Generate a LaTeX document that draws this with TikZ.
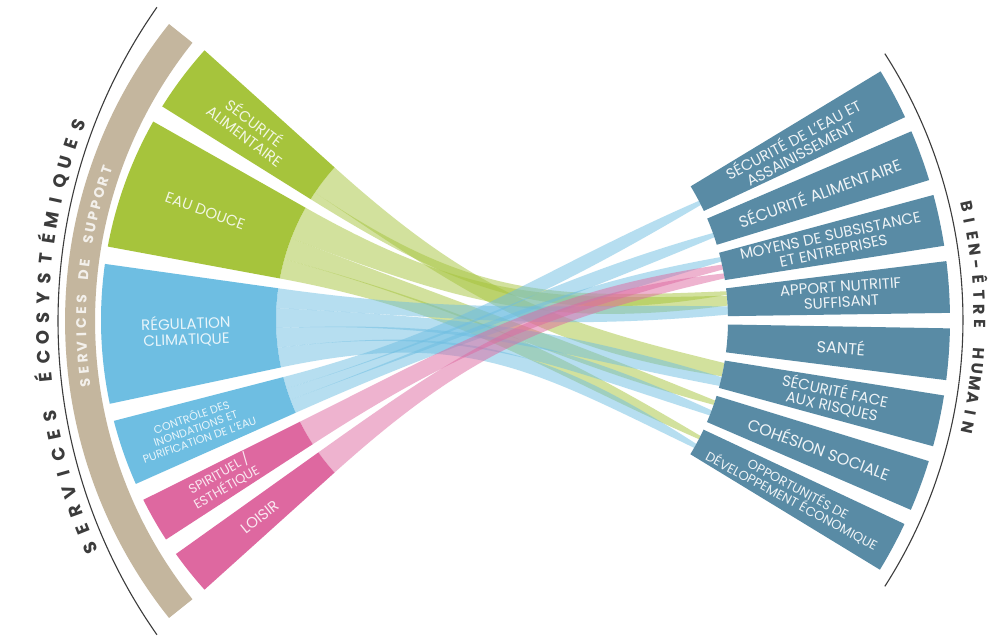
\documentclass[tikz,border=0pt]{standalone}
\usepackage{fontspec}
\setmainfont{Poppins}
\usetikzlibrary{calc}

\definecolor{leafgreen}{RGB}{166,196,60}
\definecolor{skyblue}{RGB}{110,190,226}
\definecolor{rosepink}{RGB}{222,104,160}
\definecolor{steelseg}{RGB}{89,139,165}
\definecolor{supporttan}{RGB}{196,182,158}
\definecolor{arcgray}{RGB}{60,60,60}

% #1 colour, #2 centre, #3/#4 angles, #5/#6 radii
\newcommand{\ringpart}[6]{%
	\fill[#1] ($(#2)+(#3:#5)$) arc[start angle=#3, end angle=#4, radius=#5]
		-- ($(#2)+(#4:#6)$) arc[start angle=#4, end angle=#3, radius=#6] -- cycle;}
% #1 colour, #2/#3 angles on the left, #4/#5 angles on the right
\newcommand{\flowband}[5]{%
	\fill[#1, opacity=0.5] ($(lcen)+(#2:228)$) .. controls +({#2+180}:190) and +({#5+176}:175) .. ($(rcen)+(#5:258)$)
		arc[start angle=#5, end angle=#4, radius=258]
		.. controls +({#4+184}:175) and +({#3+180}:190) .. ($(lcen)+(#3:228)$)
		arc[start angle=#3, end angle=#2, radius=228] -- cycle;}

\tikzset{
	lefttext/.style={text=white, text opacity=0.85, align=center, inner sep=0pt, font=\fontsize{15}{16}\selectfont},
	righttext/.style={text=white, text opacity=0.9, align=center, inner sep=0pt, font=\fontsize{15}{15.5}\selectfont},
	titlearc/.style={arcgray, line width=1.1pt},
	titleletter/.style={text=arcgray, anchor=base, inner sep=0pt, font=\fontsize{18}{18}\selectfont\bfseries},
	tanletter/.style={text=white, text opacity=0.8, anchor=base, inner sep=0pt, font=\fontsize{14}{14}\selectfont\bfseries}
}

\begin{document}
\begin{tikzpicture}[x=1pt, y=1pt]
	\path[use as bounding box, fill=white] (0,0) rectangle (993,637);
	\coordinate (lcen) at (504,317);
	\coordinate (rcen) at (470,317);
	\coordinate (tcen) at (541,316);
	\coordinate (bcen) at (605,316);

	\flowband{leafgreen}{138}{146}{-12.6}{-9.6}
	\flowband{leafgreen}{146}{148}{5.6}{6.4}
	\flowband{leafgreen}{150.5}{159}{3.2}{5.4}
	\flowband{leafgreen}{159}{164.5}{-19.2}{-18.2}
	\flowband{leafgreen}{164.5}{169.5}{-27.5}{-26.7}
	\flowband{skyblue}{172}{177}{1.2}{3}
	\flowband{skyblue}{177}{182}{-14.8}{-12.8}
	\flowband{skyblue}{182}{187}{-21.7}{-20.5}
	\flowband{skyblue}{187}{192}{-29.7}{-28.7}
	\flowband{skyblue}{194.5}{197.5}{26.5}{27.5}
	\flowband{skyblue}{197.5}{200.5}{18.7}{19.7}
	\flowband{skyblue}{200.5}{204}{13.1}{14.1}
	\flowband{rosepink}{206.5}{213}{11.3}{12.4}
	\flowband{rosepink}{215.5}{222}{9.3}{10.4}

	\ringpart{leafgreen}{lcen}{138}{148}{228}{403}
	\ringpart{leafgreen}{lcen}{150.5}{169.5}{228}{403}
	\ringpart{skyblue}{lcen}{172}{192}{228}{403}
	\ringpart{skyblue}{lcen}{194.5}{204}{228}{403}
	\ringpart{rosepink}{lcen}{206.5}{213}{228}{403}
	\ringpart{rosepink}{lcen}{215.5}{222}{228}{403}

	\ringpart{steelseg}{rcen}{25}{31.2}{258}{480}
	\ringpart{steelseg}{rcen}{16.95}{23.15}{258}{480}
	\ringpart{steelseg}{rcen}{8.9}{15.1}{258}{480}
	\ringpart{steelseg}{rcen}{0.85}{7.05}{258}{480}
	\ringpart{steelseg}{rcen}{-7.2}{-1}{258}{480}
	\ringpart{steelseg}{rcen}{-15.25}{-9.05}{258}{480}
	\ringpart{steelseg}{rcen}{-23.3}{-17.1}{258}{480}
	\ringpart{steelseg}{rcen}{-31.35}{-25.15}{258}{480}

	\ringpart{supporttan}{tcen}{141.4}{218.6}{446}{476}
	\draw[titlearc] ($(bcen)+(145:547)$) arc[start angle=145, end angle=215, radius=547];
	\draw[titlearc] ($(rcen)+(-32.7:493)$) arc[start angle=-32.7, end angle=32.7, radius=493];

	\node[lefttext, rotate=-37] (secalim) at ($(lcen)+(143:318)$) {SÉCURITÉ\\ALIMENTAIRE};
	\node[lefttext, rotate=-20] (eaudouce) at ($(lcen)+(160:318)$) {EAU DOUCE};
	\node[lefttext, rotate=2] (regclim) at ($(lcen)+(182:318)$) {RÉGULATION\\CLIMATIQUE};
	\node[lefttext, rotate=19.25, font=\fontsize{11}{12}\selectfont] (controle) at ($(lcen)+(199.25:327)$) {CONTRÔLE DES\\INONDATIONS ET\\PURIFICATION DE L’EAU};
	\node[lefttext, rotate=29.75, font=\fontsize{13}{13.5}\selectfont] (spirit) at ($(lcen)+(209.6:324)$) {SPIRITUEL /\\ESTHÉTIQUE};
	\node[lefttext, rotate=38.75] (loisir) at ($(lcen)+(218.9:314)$) {LOISIR};

	\node[righttext, rotate=28.1] (seceau) at ($(rcen)+(28.1:370)$) {SÉCURITÉ DE L’EAU ET\\ASSAINISSEMENT};
	\node[righttext, rotate=20.05, font=\fontsize{16}{17}\selectfont] (secnour) at ($(rcen)+(20.05:372)$) {SÉCURITÉ ALIMENTAIRE};
	\node[righttext, rotate=12] (moyens) at ($(rcen)+(12:370)$) {MOYENS DE SUBSISTANCE\\ET ENTREPRISES};
	\node[righttext, rotate=3.95] (apport) at ($(rcen)+(3.95:372)$) {APPORT NUTRITIF\\SUFFISANT};
	\node[righttext, rotate=-4.1, font=\fontsize{16}{17}\selectfont] (sante) at ($(rcen)+(-4.1:372)$) {SANTÉ};
	\node[righttext, rotate=-12.15] (secrisq) at ($(rcen)+(-12.15:372)$) {SÉCURITÉ FACE\\AUX RISQUES};
	\node[righttext, rotate=-20.2, font=\fontsize{16}{17}\selectfont] (cohesion) at ($(rcen)+(-20.2:372)$) {COHÉSION SOCIALE};
	\node[righttext, rotate=-28.25, font=\fontsize{13}{13.5}\selectfont] (opport) at ($(rcen)+(-28.25:369)$) {OPPORTUNITÉS DE\\DÉVELOPPEMENT ÉCONOMIQUE};

	\foreach \ch [count=\i from 0] in {S,E,R,V,I,C,E,S,{},É,C,O,S,Y,S,T,É,M,I,Q,U,E,S}
		\node[titleletter, rotate={113.8-2.01*\i}] (eco\i) at ($(bcen)+({203.8-2.01*\i}:556)$) {\ch};
	\foreach \ch [count=\i from 0] in {S,E,R,V,I,C,E,S,{},D,E,{},S,U,P,P,O,R,T}
		\node[tanletter, rotate={97.7-1.49*\i}] (sup\i) at ($(tcen)+({187.7-1.49*\i}:455)$) {\ch};
	\foreach \ch [count=\i from 0] in {B,I,E,N,-,Ê,T,R,E,{},H,U,M,A,I,N}
		\node[titleletter, font=\fontsize{16}{16}\selectfont\bfseries, rotate={-77.1-1.673*\i}] (bien\i) at ($(rcen)+({12.9-1.673*\i}:504)$) {\ch};
\end{tikzpicture}
\end{document}
